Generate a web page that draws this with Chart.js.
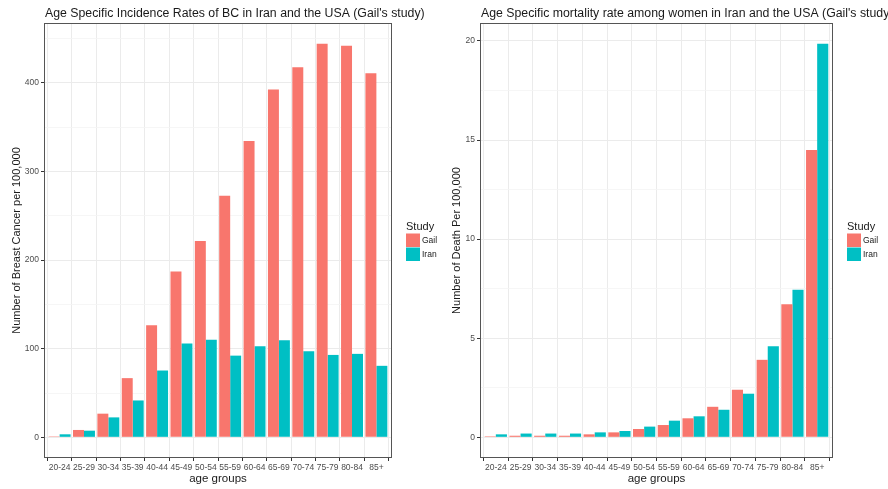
<!DOCTYPE html>
<html>
<head>
<meta charset="utf-8">
<script src="https://cdn.jsdelivr.net/npm/chart.js@4"></script>
<style>
  html, body { margin: 0; padding: 0; background: #ffffff; }
  .panel { position: absolute; top: 0; width: 444px; height: 489px; }
</style>
</head>
<body>
<div class="panel" style="left:0"><canvas id="c1"></canvas></div>
<div class="panel" style="left:444px"><canvas id="c2"></canvas></div>
<script>
// ---- data ----
const ageGroups = ["20-24","25-29","30-34","35-39","40-44","45-49","50-54","55-59","60-64","65-69","70-74","75-79","80-84","85+"];
const seriesNames = ["Gail", "Iran"];
const incidenceGail = [1, 8.3, 26.7, 66.8, 126.4, 187.2, 221.6, 272.6, 334.5, 392.6, 417.8, 444.3, 442, 411];
const incidenceIran = [3.4, 7.5, 22.5, 41.6, 75.4, 105.8, 110.2, 92.2, 102.8, 109.6, 97.2, 93, 94.2, 80.7];
const mortalityGail = [0.05, 0.08, 0.08, 0.08, 0.15, 0.25, 0.42, 0.62, 0.96, 1.54, 2.4, 3.91, 6.71, 14.5];
const mortalityIran = [0.15, 0.19, 0.19, 0.19, 0.25, 0.32, 0.54, 0.84, 1.06, 1.39, 2.2, 4.6, 7.44, 19.86];
const incidenceMajorTicks = [0, 100, 200, 300, 400];
const incidenceMinorTicks = [50, 150, 250, 350, 450];
const mortalityMajorTicks = [0, 5, 10, 15, 20];
const mortalityMinorTicks = [2.5, 7.5, 12.5, 17.5];
const colors = ["#F8766D", "#00BFC4"];

const FONT = "'Liberation Sans', Arial, sans-serif";

function toPoints(arr) { return arr.map((v, i) => ({ x: i + 1, y: v })); }

const decorPlugin = {
  id: 'decor',
  afterDraw(chart) {
    const { ctx, chartArea: a } = chart;
    const o = chart.options.plugins.decor;
    ctx.save();
    // panel border
    ctx.strokeStyle = '#555555';
    ctx.lineWidth = 1;
    ctx.strokeRect(Math.round(a.left) - 0.5, Math.round(a.top) - 0.5, Math.round(a.right - a.left) + 1, Math.round(a.bottom - a.top) + 1);
    // title
    ctx.fillStyle = '#1a1a1a';
    ctx.font = '12.3px ' + FONT;
    ctx.textBaseline = 'middle';
    ctx.textAlign = 'left';
    ctx.fillText(o.title, a.left, 14);
    // legend
    const lx = a.right + 15;
    const cy = (a.top + a.bottom) / 2;
    ctx.font = '11px ' + FONT;
    ctx.fillStyle = '#1a1a1a';
    ctx.fillText('Study', lx, cy - 14);
    chart.data.datasets.forEach((ds, i) => {
      const by = cy - 7 + i * 14;
      ctx.fillStyle = ds.backgroundColor;
      ctx.fillRect(lx, by, 14, 13.5);
      ctx.fillStyle = '#1a1a1a';
      ctx.font = '8.5px ' + FONT;
      ctx.fillText(ds.label, lx + 16, by + 7);
    });
    ctx.restore();
  }
};

function makeChart(id, title, yTitle, gail, iran, major, minor, opts) {
  const all = gail.concat(iran);
  const maxV = Math.max(...all);
  const ticks = major.concat(minor).sort((p, q) => p - q);
  return new Chart(document.getElementById(id), {
    type: 'bar',
    data: {
      datasets: [
        { label: seriesNames[0], data: toPoints(gail), backgroundColor: colors[0], borderWidth: 0 },
        { label: seriesNames[1], data: toPoints(iran), backgroundColor: colors[1], borderWidth: 0 }
      ]
    },
    plugins: [decorPlugin],
    options: {
      responsive: true,
      maintainAspectRatio: false,
      animation: false,
      layout: { padding: { left: 0, top: 24, right: opts.padRight, bottom: 0 } },
      datasets: { bar: { categoryPercentage: 0.9, barPercentage: 1.0 } },
      plugins: {
        legend: { display: false },
        title: { display: false },
        tooltip: { enabled: false },
        decor: { title: title }
      },
      scales: {
        x: {
          type: 'linear',
          min: 0.4,
          max: ageGroups.length + 0.6,
          offset: false,
          afterBuildTicks(scale) { scale.ticks = ageGroups.map((g, i) => ({ value: i + 1 })); },
          afterFit(scale) { scale.height = 32; },
          grid: { color: '#ebebeb', lineWidth: 1, drawTicks: true, tickLength: 4, tickColor: '#333333' },
          border: { display: false },
          ticks: {
            autoSkip: false, maxRotation: 0, padding: 2,
            color: '#4d4d4d', font: { family: FONT, size: 8.5 },
            callback: (v) => ageGroups[Math.round(v) - 1]
          },
          title: { display: true, text: 'age groups', color: '#1a1a1a', font: { family: FONT, size: 11.5 }, padding: { top: 0, bottom: 3 } }
        },
        y: {
          type: 'linear',
          min: -0.05 * maxV,
          max: 1.05 * maxV,
          afterBuildTicks(scale) { scale.ticks = ticks.map(v => ({ value: v })); },
          afterFit(scale) { scale.width = opts.yWidth; },
          grid: {
            color: (c) => major.includes(c.tick.value) ? '#ebebeb' : '#f4f4f4',
            lineWidth: (c) => major.includes(c.tick.value) ? 1 : 0.8,
            drawTicks: true, tickLength: 4,
            tickColor: (c) => major.includes(c.tick.value) ? '#333333' : 'rgba(0,0,0,0)'
          },
          border: { display: false },
          ticks: {
            autoSkip: false, padding: 2,
            color: '#4d4d4d', font: { family: FONT, size: 8.5 },
            callback: (v) => major.includes(v) ? String(v) : ''
          },
          title: { display: true, text: yTitle, color: '#1a1a1a', font: { family: FONT, size: 11 }, padding: { top: opts.yTitlePad, bottom: 0 } }
        }
      }
    }
  });
}

makeChart('c1', 'Age Specific Incidence Rates of BC in Iran and the USA (Gail\'s study)', 'Number of Breast Cancer per 100,000',
  incidenceGail, incidenceIran, incidenceMajorTicks, incidenceMinorTicks, { padRight: 53, yWidth: 45, yTitlePad: 10 });
makeChart('c2', 'Age Specific mortality rate among women in Iran and the USA (Gail\'s study)', 'Number of Death Per 100,000',
  mortalityGail, mortalityIran, mortalityMajorTicks, mortalityMinorTicks, { padRight: 56, yWidth: 37, yTitlePad: 6 });
</script>
</body>
</html>
